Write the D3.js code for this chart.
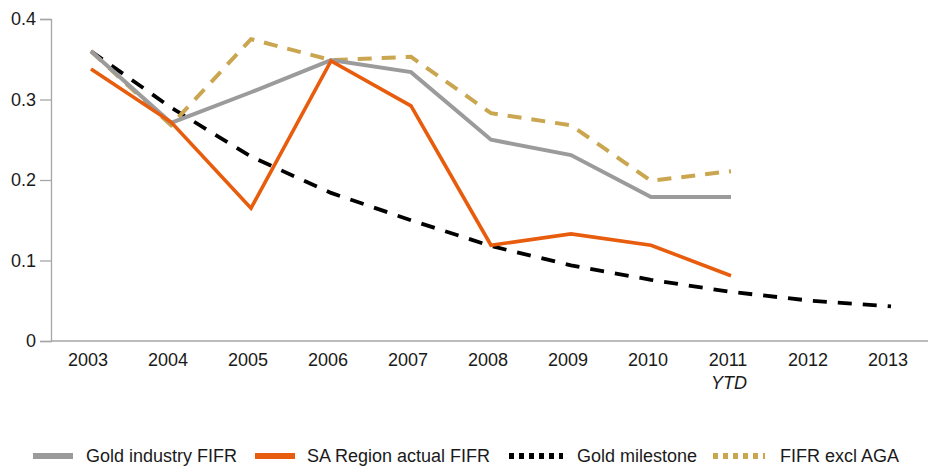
<!DOCTYPE html>
<meta charset="utf-8">
<title>FIFR chart</title>
<script src="https://d3js.org/d3.v7.min.js"></script>
<style>
  body { margin: 0; background: #fff; }
  text { font-family: "Liberation Sans", Arial, sans-serif; fill: #1a1a1a; }
</style>
<body>
</body>
<script>
  const width = 928, height = 467;

  // data
  const years = ["2003","2004","2005","2006","2007","2008","2009","2010","2011","2012","2013"];
  const goldIndustry = [0.360, 0.271, 0.309, 0.349, 0.334, 0.250, 0.231, 0.179, 0.179];
  const saRegion     = [0.338, 0.272, 0.165, 0.348, 0.292, 0.119, 0.133, 0.119, 0.081];
  const milestone    = [0.360, 0.290, 0.229, 0.184, 0.150, 0.118, 0.094, 0.076, 0.061, 0.050, 0.043];
  const exclAGA      = [0.360, 0.268, 0.375, 0.349, 0.353, 0.283, 0.268, 0.199, 0.211];
  const yTicks = [0, 0.1, 0.2, 0.3, 0.4];

  const series = [
    {name: "Gold industry FIFR", values: goldIndustry, color: "#9b9b9b", width: 4, dash: null, legendDash: null},
    {name: "SA Region actual FIFR", values: saRegion, color: "#e85c0d", width: 3.6, dash: null, legendDash: null},
    {name: "Gold milestone", values: milestone, color: "#000000", width: 3.8, dash: "14,11", legendDash: "5,5"},
    {name: "FIFR excl AGA", values: exclAGA, color: "#c9a64f", width: 4, dash: "14,10", legendDash: "5,5"}
  ];

  const svg = d3.select("body").append("svg").attr("width", width).attr("height", height);

  const x = d3.scaleBand().domain(years).range([51, 931]);
  const y = d3.scaleLinear().domain([0, 0.4]).range([341, 19]);
  const cx = d => x(d) + x.bandwidth() / 2;

  // y axis
  const yAxis = svg.append("g")
      .attr("transform", "translate(51,0)")
      .call(d3.axisLeft(y).tickValues(yTicks).tickSize(11).tickPadding(4)
        .tickFormat(d => d === 0 ? "0" : d3.format(".1f")(d)));
  yAxis.select(".domain").attr("stroke", "#a6a6a6").attr("stroke-width", 1.3);
  yAxis.selectAll(".tick line").attr("stroke", "#a6a6a6").attr("stroke-width", 1.3);
  yAxis.selectAll(".tick text").attr("font-size", 18).attr("fill", "#1a1a1a")
      .attr("font-family", "'Liberation Sans', Arial, sans-serif");

  // x axis line
  svg.append("line")
      .attr("x1", 51).attr("x2", width).attr("y1", y(0)).attr("y2", y(0))
      .attr("stroke", "#a6a6a6").attr("stroke-width", 1.3);

  const xAxis = svg.append("g")
      .attr("transform", `translate(0,${y(0)})`)
      .call(d3.axisBottom(x).tickSize(0).tickPadding(12));
  xAxis.select(".domain").remove();
  xAxis.selectAll(".tick text").attr("font-size", 18).attr("fill", "#1a1a1a")
      .attr("font-family", "'Liberation Sans', Arial, sans-serif")
      .attr("dx", -3);

  svg.append("text")
      .attr("x", cx("2011") - 2).attr("y", 389)
      .attr("text-anchor", "middle")
      .attr("font-size", 18)
      .attr("font-style", "italic")
      .text("YTD");

  // lines
  const line = d3.line()
      .x((d, i) => cx(years[i]))
      .y(d => y(d));

  // draw milestone first, then the others on top
  const order = [2, 3, 0, 1];
  order.forEach(k => {
    const s = series[k];
    svg.append("path")
        .datum(s.values)
        .attr("fill", "none")
        .attr("stroke", s.color)
        .attr("stroke-width", s.width)
        .attr("stroke-dasharray", s.dash)
        .attr("d", line);
  });

  // legend
  const legendY = 456;
  const legendX = [33, 255, 509, 713];
  const swatchW = [40, 40, 54, 52];
  const textGap = [13, 12, 14, 15];
  series.forEach((s, i) => {
    const g = svg.append("g").attr("transform", `translate(${legendX[i]},${legendY})`);
    g.append("line")
        .attr("x1", 0).attr("x2", swatchW[i]).attr("y1", 0).attr("y2", 0)
        .attr("stroke", s.color)
        .attr("stroke-width", 6)
        .attr("stroke-dasharray", s.legendDash);
    g.append("text")
        .attr("x", swatchW[i] + textGap[i])
        .attr("y", 0)
        .attr("dy", "0.35em")
        .attr("font-size", 18)
        .text(s.name);
  });
</script>
